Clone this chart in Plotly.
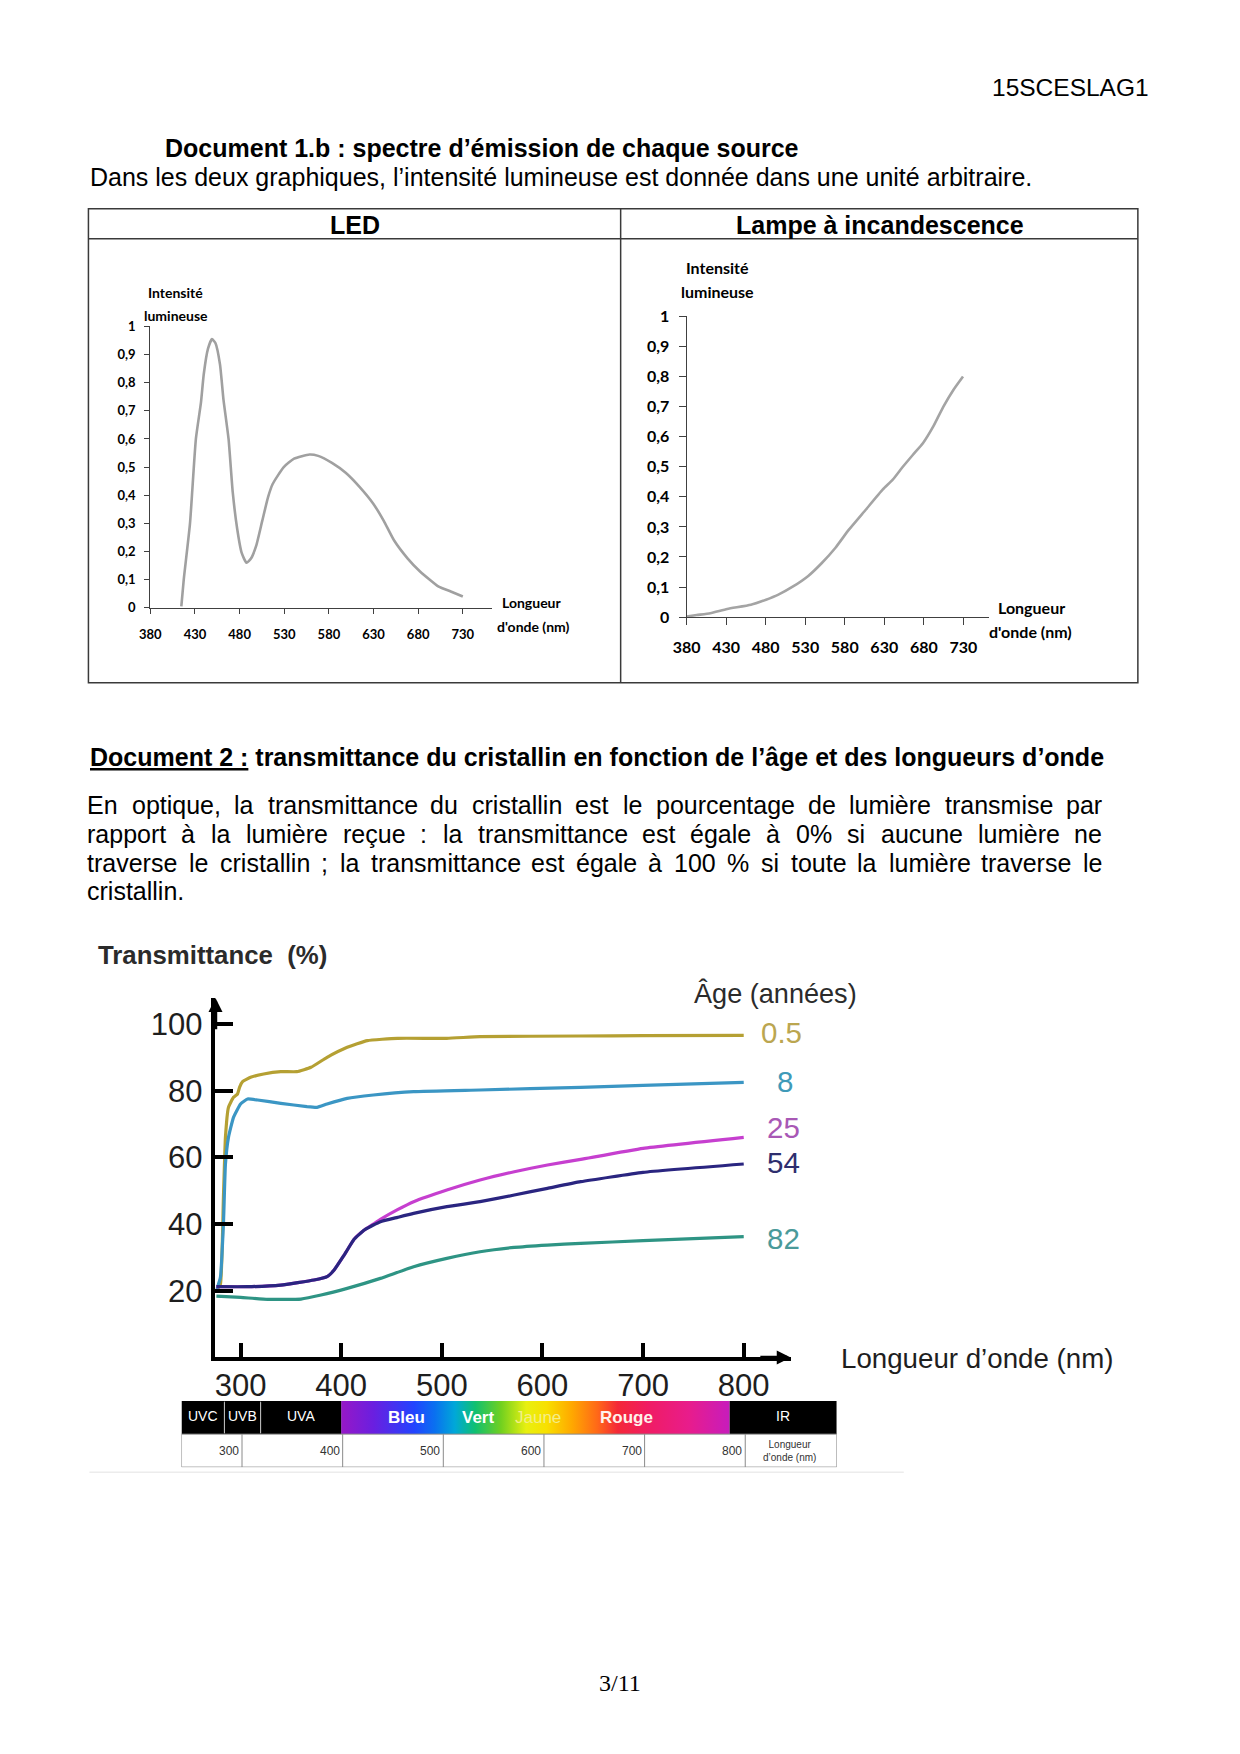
import plotly.graph_objects as go

W, H = 1240, 1754

# ---------------- DATA ----------------
# Document 1.b - LED spectrum
led_nm = [414.7, 417.4, 424.4, 431, 436.7, 439.8, 444.5, 449, 453, 458, 461.9, 467.6, 472.3,
          477.3, 482.3, 487.7, 492.7, 498.5, 505.4, 512, 517, 529.4, 541, 558.3, 568, 583.4,
          598.8, 614.3, 629.7, 641.3, 652.9, 668.3, 681.8, 703, 716.5, 730]
led_val = [0.005, 0.10, 0.30, 0.60, 0.73, 0.83, 0.92, 0.955, 0.94, 0.865, 0.74, 0.60, 0.41,
           0.28, 0.195, 0.16, 0.175, 0.22, 0.31, 0.395, 0.44, 0.50, 0.53, 0.545, 0.54, 0.515,
           0.48, 0.43, 0.37, 0.31, 0.24, 0.175, 0.13, 0.075, 0.058, 0.04]

# Document 1.b - incandescent lamp spectrum
lamp_nm = [380, 392.8, 409.9, 431.3, 461.2, 480.4, 495.4, 514.6, 533.8, 551, 568, 585, 606.5,
           627.9, 640.7, 653.5, 666.3, 679.1, 692, 704.8, 717.6, 729.6]
lamp_val = [0.002, 0.007, 0.013, 0.027, 0.041, 0.058, 0.074, 0.102, 0.137, 0.18, 0.23, 0.29,
            0.357, 0.424, 0.457, 0.50, 0.54, 0.579, 0.634, 0.70, 0.756, 0.80]

spec_ticks = [380, 430, 480, 530, 580, 630, 680, 730]
int_ticks = [0, 0.1, 0.2, 0.3, 0.4, 0.5, 0.6, 0.7, 0.8, 0.9, 1]
int_ticktext = ["0", "0,1", "0,2", "0,3", "0,4", "0,5", "0,6", "0,7", "0,8", "0,9", "1"]

# Document 2 - transmittance of the lens by age
ages = ["0.5", "8", "25", "54", "82"]
x_05 = [276, 280, 283, 285, 288, 293, 297, 299, 302, 310, 323, 340, 356, 370, 386, 406, 426,
        456, 505, 538, 638, 700, 800]
y_05 = [20, 22, 48, 66, 75, 78, 79, 81, 82.7, 84, 85, 85.7, 85.7, 87, 90, 93, 95, 95.7, 95.7,
        96.2, 96.4, 96.5, 96.6]
x_8 = [276, 280, 283, 285, 288, 293, 300, 307, 317, 340, 366, 376, 386, 406, 432, 472, 538,
       638, 700, 800]
y_8 = [20, 24, 40, 58, 66, 72, 76, 77.5, 77.2, 76.2, 75.2, 75, 76, 77.7, 78.7, 79.7, 80.2,
       81, 81.6, 82.5]
x_25 = [276, 307, 340, 373, 386, 393, 403, 413, 423, 432, 439, 456, 472, 505, 538, 572, 605,
        638, 700, 800]
y_25 = [21.2, 21.2, 21.7, 23.2, 24.2, 26.2, 30.7, 35.5, 38.2, 40, 41.4, 44.3, 46.7, 50.2,
        53.2, 55.7, 57.7, 59.4, 62.7, 66]
x_54 = [276, 307, 340, 373, 386, 393, 403, 413, 423, 432, 439, 456, 472, 505, 538, 572, 605,
        638, 700, 800]
y_54 = [21.2, 21.2, 21.7, 23.2, 24.2, 26.2, 30.7, 35.5, 38.2, 39.7, 40.7, 42, 43.2, 45.2,
        46.7, 48.7, 50.7, 52.7, 55.5, 58]
x_82 = [276, 300, 327, 360, 380, 406, 439, 472, 505, 538, 572, 605, 638, 700, 800]
y_82 = [18.4, 18, 17.4, 17.5, 18.7, 20.7, 23.7, 27.2, 29.7, 31.7, 33, 33.7, 34.2, 35, 36.2]

trans_xticks = [300, 400, 500, 600, 700, 800]
trans_yticks = [20, 40, 60, 80, 100]

# Spectrum band under the chart
band_names = ["UVC", "UVB", "UVA", "IR"]
band_start = [241.4, 284, 320, 786]
band_end = [284, 320, 400, 892.4]
visible_start, visible_end = 400, 786
spec_stop_nm = [400, 430, 470, 490, 510, 530, 555, 580, 600, 625, 650, 670, 700, 740, 786]
spec_stop_col = ['#9418c8', '#6a1fe0', '#2244ff', '#0a70f0', '#00a8d8', '#10c070', '#70d020',
                 '#e8f010', '#f8e000', '#ffa800', '#ff6818', '#f42838', '#f01c64', '#e81c8c',
                 '#c21cc4']
colour_names = ["Bleu", "Vert", "Jaune", "Rouge"]
colour_nm = [465, 536, 596, 684]
scale_nm = [300, 400, 500, 600, 700, 800]

# ---------------- HELPERS ----------------
# page-pixel -> paper fraction (with a small calibration of the capture)
SX, BX = 0.9883, 13.6
SY, BY = 0.9888, 10.4


def px(x):
    return ((x - BX) / SX) / W


def py(y):
    return 1 - ((y - BY) / SY) / H


fig = go.Figure()


def ann(text, x, y, size, xanchor='center', yanchor='middle', family='Liberation Sans',
        color='black', weight=None, xref='paper', yref='paper'):
    f = dict(family=family, size=size, color=color)
    if weight:
        f['weight'] = weight
    if xref == 'paper':
        x = px(x)
    if yref == 'paper':
        y = py(y)
    fig.add_annotation(x=x, y=y, xref=xref, yref=yref, text=text, showarrow=False,
                       xanchor=xanchor, yanchor=yanchor, font=f, borderpad=0)


ARIAL = {' ': 278, 'a': 556, 'b': 556, 'c': 500, 'd': 556, 'e': 556, 'f': 278, 'g': 556,
         'h': 556, 'i': 222, 'j': 222, 'k': 500, 'l': 222, 'm': 833, 'n': 556, 'o': 556,
         'p': 556, 'q': 556, 'r': 333, 's': 500, 't': 278, 'u': 556, 'v': 500, 'w': 722,
         'x': 500, 'y': 500, 'z': 500, 'E': 667, ',': 278, '.': 278, ':': 278, ';': 278,
         '%': 889, 'à': 556, 'è': 556, 'é': 556, 'ç': 500, "'": 191, '’': 222}


def text_width(s, size):
    return sum(ARIAL.get(ch, 556) for ch in s) * size / 1000


def justify(line, x0, x1, y, size):
    words = line.split(' ')
    ws = [text_width(w, size * SX) for w in words]
    gap = (x1 - x0 - sum(ws)) / (len(words) - 1)
    x = x0
    for w, wd in zip(words, ws):
        ann(w, x, y, size, xanchor='left')
        x += wd + gap


# ---------------- TRACES ----------------
fig.add_trace(go.Scatter(x=led_nm, y=led_val, xaxis='x', yaxis='y', mode='lines',
                         line=dict(color='#a0a0a0', width=2.6, shape='spline', smoothing=0.5),
                         hoverinfo='skip', showlegend=False))
fig.add_trace(go.Scatter(x=lamp_nm, y=lamp_val, xaxis='x2', yaxis='y2', mode='lines',
                         line=dict(color='#a4a4a4', width=2.6, shape='spline', smoothing=0.5),
                         hoverinfo='skip', showlegend=False))

line_cols = ['#b5a033', '#3b96c4', '#c63fcf', '#2a2580', '#2e9484']
label_cols = ['#bba650', '#3f9ab8', '#a858b5', '#2e2e6e', '#4a9a9a']
series_x = [x_05, x_8, x_25, x_54, x_82]
series_y = [y_05, y_8, y_25, y_54, y_82]
for sx, sy, c in zip(series_x, series_y, line_cols):
    fig.add_trace(go.Scatter(x=sx, y=sy, xaxis='x3', yaxis='y3', mode='lines',
                             line=dict(color=c, width=3.2, shape='spline', smoothing=0.4),
                             hoverinfo='skip', showlegend=False))

# visible spectrum band (horizontal gradient)
cs = [[(nm - visible_start) / (visible_end - visible_start), c]
      for nm, c in zip(spec_stop_nm, spec_stop_col)]
fig.add_trace(go.Scatter(x=[visible_start, visible_end, visible_end, visible_start, visible_start],
                         y=[1, 1, 2, 2, 1], xaxis='x4', yaxis='y4', mode='lines',
                         fill='toself', line=dict(width=0),
                         fillgradient=dict(type='horizontal', colorscale=cs,
                                           start=visible_start, stop=visible_end),
                         hoverinfo='skip', showlegend=False))

# ---------------- AXES ----------------
small_axis = dict(showgrid=False, zeroline=False, showline=True, ticks='outside',
                  fixedrange=True)

layout = dict(
    width=W, height=H, margin=dict(l=0, r=0, t=0, b=0),
    paper_bgcolor='white', plot_bgcolor='rgba(0,0,0,0)', showlegend=False,
    xaxis=dict(small_axis, domain=[px(149.9), px(491.5)], range=[380, 762.8], anchor='y',
               tickvals=spec_ticks, ticklen=5, tickwidth=1, tickcolor='#404040',
               linecolor='#404040', linewidth=1.2, ticklabelstandoff=9,
               tickfont=dict(family='Lato', size=13, color='black', weight=700)),
    yaxis=dict(small_axis, domain=[py(608), py(326.7)], range=[0, 1], anchor='x',
               tickvals=int_ticks, ticktext=int_ticktext, ticklen=5, tickwidth=1,
               tickcolor='#404040', linecolor='#404040', linewidth=1.2, ticklabelstandoff=6,
               tickfont=dict(family='Lato', size=13, color='black', weight=700)),
    xaxis2=dict(small_axis, domain=[px(686), px(988.6)], range=[380, 763], anchor='y2',
                tickvals=spec_ticks, ticklen=7, tickwidth=1.2, tickcolor='#404040',
                linecolor='#404040', linewidth=1.2, ticklabelstandoff=9,
                tickfont=dict(family='Lato', size=16, color='black', weight=700)),
    yaxis2=dict(small_axis, domain=[py(617.3), py(316.7)], range=[0, 1], anchor='x2',
                tickvals=int_ticks, ticktext=int_ticktext, ticklen=7, tickwidth=1.2,
                tickcolor='#404040', linecolor='#404040', linewidth=1.2, ticklabelstandoff=6,
                tickfont=dict(family='Lato', size=16, color='black', weight=700)),
    xaxis3=dict(domain=[px(215), px(790)], range=[275.1, 846.7], anchor='y3',
                showgrid=False, zeroline=False, showline=True, linecolor='black',
                linewidth=3.5, ticks='inside', ticklen=15, tickwidth=3.5, tickcolor='black',
                tickvals=trans_xticks, ticklabelstandoff=-2, fixedrange=True,
                tickfont=dict(family='Liberation Sans', size=31, color='#1e1e1e')),
    yaxis3=dict(domain=[py(1357.3), py(998)], range=[0, 107.8], anchor='x3',
                showgrid=False, zeroline=False, showline=True, linecolor='black',
                linewidth=3.5, ticks='inside', ticklen=18, tickwidth=3.5, tickcolor='black',
                tickvals=trans_yticks, ticklabelstandoff=3, fixedrange=True,
                tickfont=dict(family='Liberation Sans', size=31, color='#1e1e1e')),
    xaxis4=dict(domain=[px(181), px(836)], range=[241.35, 892.4], anchor='y4', visible=False,
                fixedrange=True),
    yaxis4=dict(domain=[py(1467), py(1401)], range=[0, 2], anchor='x4', visible=False,
                fixedrange=True),
)
fig.update_layout(**layout)

# axis arrows (Document 2)
fig.add_annotation(x=275.1, y=107.8, ax=275.1, ay=98, xref='x3', yref='y3', axref='x3',
                   ayref='y3', text='', showarrow=True, arrowhead=2, arrowsize=0.8,
                   arrowwidth=3.5, arrowcolor='black')
fig.add_annotation(x=846.7, y=0, ax=815, ay=0, xref='x3', yref='y3', axref='x3',
                   ayref='y3', text='', showarrow=True, arrowhead=2, arrowsize=0.8,
                   arrowwidth=3.5, arrowcolor='black')

# ---------------- SHAPES ----------------
tb = dict(color='#3a3a3a', width=1.5)
fig.add_shape(type='rect', xref='paper', yref='paper', x0=px(88), x1=px(1137),
              y0=py(683), y1=py(209), line=tb)
fig.add_shape(type='line', xref='paper', yref='paper', x0=px(88), x1=px(1137),
              y0=py(239), y1=py(239), line=tb)
fig.add_shape(type='line', xref='paper', yref='paper', x0=px(620), x1=px(620),
              y0=py(209), y1=py(683), line=tb)

# spectrum bar: UV / IR black blocks
for b0, b1 in zip(band_start, band_end):
    fig.add_shape(type='rect', xref='x4', yref='y4', x0=b0, x1=b1, y0=1, y1=2,
                  fillcolor='black', line=dict(width=0))
for sep in band_end[:2]:
    fig.add_shape(type='line', xref='x4', yref='y4', x0=sep, x1=sep, y0=1.03, y1=1.97,
                  line=dict(color='#c8c8c8', width=1))
# scale row
fig.add_shape(type='rect', xref='x4', yref='y4', x0=band_start[0], x1=band_end[-1],
              y0=0, y1=1, fillcolor='white', line=dict(color='#8a8a8a', width=1))
for s in scale_nm:
    fig.add_shape(type='line', xref='x4', yref='y4', x0=s + 1.5, x1=s + 1.5, y0=0, y1=1,
                  line=dict(color='#8a8a8a', width=1))
fig.add_shape(type='line', xref='paper', yref='paper', x0=px(89), x1=px(903),
              y0=py(1472), y1=py(1472), line=dict(color='#ececec', width=1.5))

# ---------------- TEXT ----------------
ann('15SCESLAG1', 1149, 88, 24.5, xanchor='right')
ann('Document 1.b : spectre d’émission de chaque source', 164, 148, 25, xanchor='left',
    weight=700)
ann('Dans les deux graphiques, l’intensité lumineuse est donnée dans une unité arbitraire.',
    89, 177, 25, xanchor='left')
ann('LED', 354, 225, 25, weight=700)
ann('Lampe à incandescence', 879, 225, 25, weight=700)

# LED chart titles
ann('Intensité', 175, 293, 14, family='Lato', weight=700)
ann('lumineuse', 175.5, 316, 14, family='Lato', weight=700)
ann('Longueur', 531.8, 603, 14, family='Lato', weight=700)
ann("d'onde (nm)", 532.5, 627, 14, family='Lato', weight=700)
# Lamp chart titles
ann('Intensité', 716.8, 268, 16, family='Lato', weight=700)
ann('lumineuse', 716.8, 292, 16, family='Lato', weight=700)
ann('Longueur', 1030.8, 608, 16, family='Lato', weight=700)
ann("d'onde (nm)", 1029.8, 632, 16, family='Lato', weight=700)

ann('<u>Document 2 :</u> transmittance du cristallin en fonction de l’âge et des longueurs d’onde',
    89, 757, 25, xanchor='left', weight=700)

para = ["En optique, la transmittance du cristallin est le pourcentage de lumière transmise par",
        "rapport à la lumière reçue : la transmittance est égale à 0% si aucune lumière ne",
        "traverse le cristallin ; la transmittance est égale à 100 % si toute la lumière traverse le",
        "cristallin."]
para_y = [805, 834, 863, 891]
for i, (line, yy) in enumerate(zip(para, para_y)):
    if i < len(para) - 1:
        justify(line, 86, 1100, yy, 25)
    else:
        ann(line, 86, yy, 25, xanchor='left')

# Document 2 chart texts
ann('Transmittance  (%)', 97, 955, 25.8, xanchor='left', color='#2b2b2b', weight=700)
ann('Âge (années)', 692, 994, 27.1, xanchor='left', color='#2b2b2b')
age_label_y = [1033, 1082, 1145, 1145, 1238]
age_label_x = [781, 784, 783, 783, 783]
age_label_anchor = ['middle', 'middle', 'bottom', 'top', 'middle']
for a, lx, ly, c, va in zip(ages, age_label_x, age_label_y, label_cols, age_label_anchor):
    ann(a, lx, ly, 29.5, color=c, yanchor=va)
ann('Longueur d’onde (nm)', 839, 1358, 27.7, xanchor='left', color='#1e1e1e')

# spectrum bar labels
narrow = 'Liberation Sans Narrow, Liberation Sans'
for name, b0, b1 in zip(band_names, band_start, band_end):
    ann(name, (b0 + b1) / 2, 1.55, 14, family=narrow, color='white', xref='x4', yref='y4')
col_txt = ['white', 'white', '#f4ee88', '#fff2ea']
col_w = [700, 700, None, 700]
for name, nm, c, wt in zip(colour_names, colour_nm, col_txt, col_w):
    ann(name, nm, 1.5, 17, family='Liberation Sans', color=c, weight=wt, xref='x4', yref='y4')
for s in scale_nm:
    ann(str(s), s - 0.5, 0.5, 12, xanchor='right', family=narrow, color='#333333',
        xref='x4', yref='y4')
ann('Longueur<br>d’onde (nm)', 845, 0.5, 10, family=narrow, color='#333333', xref='x4',
    yref='y4')

ann('3/11', 619, 1683, 24, family='Liberation Serif')

fig.write_html('out.html', config={'displayModeBar': False},
               post_script="document.body.style.margin='0px';"
                           "document.body.style.overflow='hidden';")
